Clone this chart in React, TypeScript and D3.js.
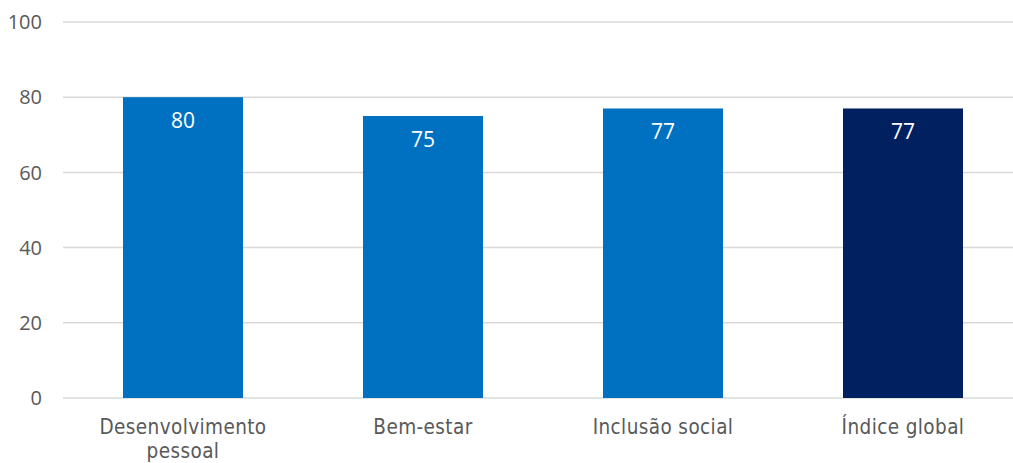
import React, { useEffect, useRef } from 'react';
import * as d3 from 'd3';

const categories = ['Desenvolvimento pessoal', 'Bem-estar', 'Inclusão social', 'Índice global'];
const labelLines = [['Desenvolvimento', 'pessoal'], ['Bem-estar'], ['Inclusão social'], ['Índice global']];
const values = [80, 75, 77, 77];
const barColors = ['#0070C0', '#0070C0', '#0070C0', '#002060'];
const yTicks = [0, 20, 40, 60, 80, 100];

const W = 1013;
const H = 463;

const App: React.FC = () => {
  const ref = useRef<SVGSVGElement | null>(null);

  useEffect(() => {
    document.body.style.margin = '0';
    const svg = d3.select(ref.current);
    svg.selectAll('*').remove();

    const x = d3.scaleBand().domain(categories).range([63, 1023]).paddingInner(0.5).paddingOuter(0.25);
    const y = d3.scaleLinear().domain([0, 100]).range([398, 22]);

    // griglia
    svg
      .append('g')
      .selectAll('line')
      .data(yTicks)
      .enter()
      .append('line')
      .attr('x1', 63)
      .attr('x2', W)
      .attr('y1', d => y(d))
      .attr('y2', d => y(d))
      .attr('stroke', '#D9D9D9')
      .attr('stroke-width', 1.5);

    // etichette asse Y
    svg
      .append('g')
      .selectAll('text')
      .data(yTicks)
      .enter()
      .append('text')
      .attr('x', 42)
      .attr('y', d => y(d))
      .attr('dy', '0.36em')
      .attr('text-anchor', 'end')
      .attr('fill', '#595959')
      .attr('font-family', '"Open Sans", sans-serif')
      .attr('font-size', '20px')
      .text(d => d);

    // barre
    svg
      .append('g')
      .selectAll('rect')
      .data(values)
      .enter()
      .append('rect')
      .attr('x', (d, i) => x(categories[i])!)
      .attr('y', d => y(d))
      .attr('width', x.bandwidth())
      .attr('height', d => y(0) - y(d))
      .attr('fill', (d, i) => barColors[i]);

    // valori
    svg
      .append('g')
      .selectAll('text')
      .data(values)
      .enter()
      .append('text')
      .attr('x', (d, i) => x(categories[i])! + x.bandwidth() / 2)
      .attr('y', d => y(d) + 31)
      .attr('text-anchor', 'middle')
      .attr('fill', '#FFFFFF')
      .attr('font-family', '"Open Sans", sans-serif')
      .attr('font-size', '21px')
      .text(d => d);

    // categorie
    const cat = svg
      .append('g')
      .selectAll('text')
      .data(labelLines)
      .enter()
      .append('text')
      .attr('x', (d, i) => x(categories[i])! + x.bandwidth() / 2)
      .attr('y', 434)
      .attr('text-anchor', 'middle')
      .attr('fill', '#595959')
      .attr('font-family', '"DejaVu Sans Condensed", sans-serif')
      .attr('font-size', '20.5px')
      .attr('letter-spacing', '0.4px');

    cat
      .selectAll('tspan')
      .data(d => d)
      .enter()
      .append('tspan')
      .attr('x', function () {
        return (this.parentNode as SVGTextElement).getAttribute('x');
      })
      .attr('dy', (d, i) => (i === 0 ? 0 : 24))
      .text(d => d);
  }, []);

  return <svg ref={ref} width={W} height={H} style={{ display: 'block' }} />;
};

export default App;
